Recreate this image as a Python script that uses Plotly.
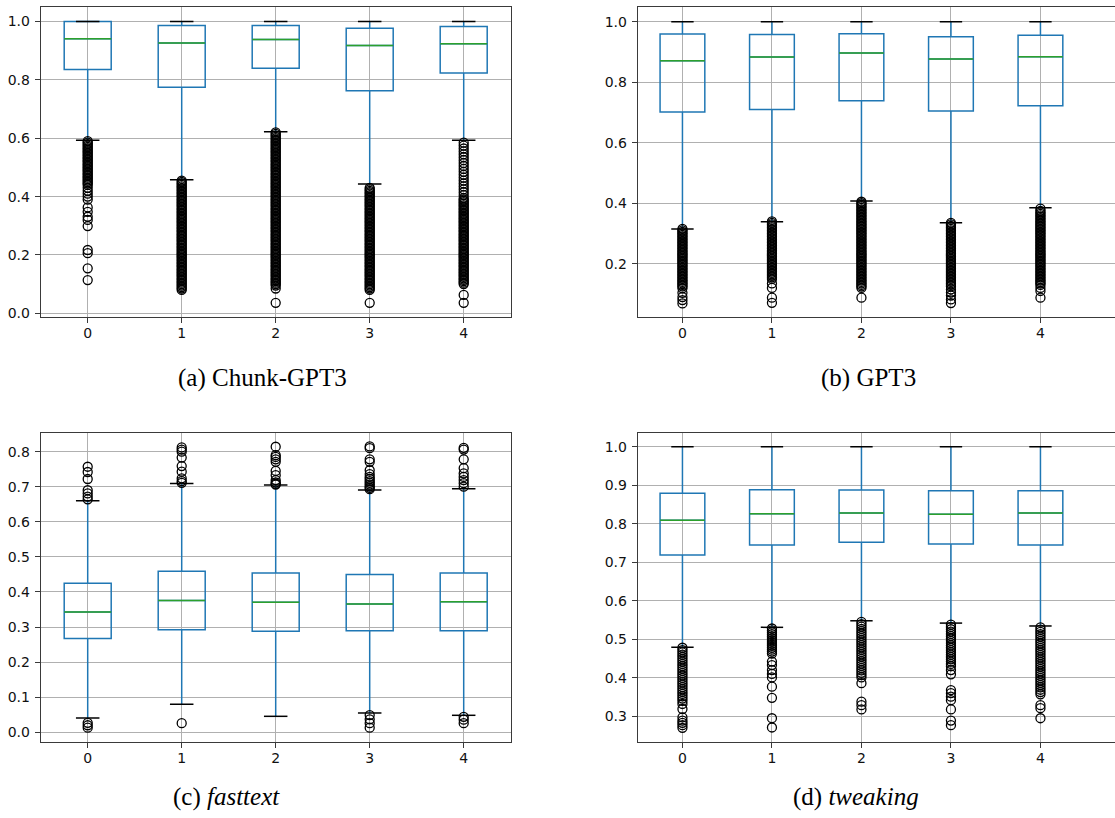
import plotly.graph_objects as go

categories = [0, 1, 2, 3, 4]
tick_labels = ["0", "1", "2", "3", "4"]
captions = ["(a) Chunk-GPT3", "(b) GPT3", "(c) <i>fasttext</i>", "(d) <i>tweaking</i>"]

# ---------------- (a) Chunk-GPT3 ----------------
a_q1 = [0.836, 0.775, 0.840, 0.763, 0.824]
a_median = [0.941, 0.927, 0.939, 0.918, 0.924]
a_q3 = [1.000, 0.987, 0.987, 0.977, 0.983]
a_low = [0.593, 0.458, 0.622, 0.443, 0.593]
a_high = [1.0, 1.0, 1.0, 1.0, 1.0]
a_out0 = [0.590, 0.585, 0.580, 0.575, 0.570, 0.565, 0.560, 0.555, 0.550, 0.545, 0.540, 0.535, 0.530, 0.525,
          0.520, 0.515, 0.510, 0.505, 0.500, 0.495, 0.490, 0.485, 0.480, 0.475, 0.470, 0.465, 0.460, 0.455,
          0.450, 0.445, 0.440, 0.430, 0.420, 0.410, 0.400, 0.390, 0.363, 0.348, 0.331, 0.320, 0.299, 0.217,
          0.206, 0.154, 0.114]
a_out1 = [0.455, 0.450, 0.445, 0.440, 0.435, 0.430, 0.425, 0.420, 0.415, 0.410, 0.405, 0.400, 0.395, 0.390,
          0.385, 0.380, 0.375, 0.370, 0.365, 0.360, 0.355, 0.350, 0.345, 0.340, 0.335, 0.330, 0.325, 0.320,
          0.315, 0.310, 0.305, 0.300, 0.295, 0.290, 0.285, 0.280, 0.275, 0.270, 0.265, 0.260, 0.255, 0.250,
          0.245, 0.240, 0.235, 0.230, 0.225, 0.220, 0.215, 0.210, 0.205, 0.200, 0.195, 0.190, 0.185, 0.180,
          0.175, 0.170, 0.165, 0.160, 0.155, 0.150, 0.145, 0.140, 0.135, 0.130, 0.125, 0.120, 0.115, 0.110,
          0.105, 0.100, 0.095, 0.090, 0.085, 0.080]
a_out2 = [0.620, 0.615, 0.610, 0.605, 0.600, 0.595, 0.590, 0.585, 0.580, 0.575, 0.570, 0.565, 0.560, 0.555,
          0.550, 0.545, 0.540, 0.535, 0.530, 0.525, 0.520, 0.515, 0.510, 0.505, 0.500, 0.495, 0.490, 0.485,
          0.480, 0.475, 0.470, 0.465, 0.460, 0.455, 0.450, 0.445, 0.440, 0.435, 0.430, 0.425, 0.420, 0.415,
          0.410, 0.405, 0.400, 0.395, 0.390, 0.385, 0.380, 0.375, 0.370, 0.365, 0.360, 0.355, 0.350, 0.345,
          0.340, 0.335, 0.330, 0.325, 0.320, 0.315, 0.310, 0.305, 0.300, 0.295, 0.290, 0.285, 0.280, 0.275,
          0.270, 0.265, 0.260, 0.255, 0.250, 0.245, 0.240, 0.235, 0.230, 0.225, 0.220, 0.215, 0.210, 0.205,
          0.200, 0.195, 0.190, 0.185, 0.180, 0.175, 0.170, 0.165, 0.160, 0.155, 0.150, 0.145, 0.140, 0.135,
          0.130, 0.125, 0.120, 0.115, 0.110, 0.105, 0.100, 0.095, 0.085, 0.036]
a_out3 = [0.430, 0.425, 0.420, 0.415, 0.410, 0.405, 0.400, 0.395, 0.390, 0.385, 0.380, 0.375, 0.370, 0.365,
          0.360, 0.355, 0.350, 0.345, 0.340, 0.335, 0.330, 0.325, 0.320, 0.315, 0.310, 0.305, 0.300, 0.295,
          0.290, 0.285, 0.280, 0.275, 0.270, 0.265, 0.260, 0.255, 0.250, 0.245, 0.240, 0.235, 0.230, 0.225,
          0.220, 0.215, 0.210, 0.205, 0.200, 0.195, 0.190, 0.185, 0.180, 0.175, 0.170, 0.165, 0.160, 0.155,
          0.150, 0.145, 0.140, 0.135, 0.130, 0.125, 0.120, 0.115, 0.110, 0.105, 0.100, 0.095, 0.090, 0.085,
          0.080, 0.036]
a_out4 = [0.585, 0.575, 0.565, 0.555, 0.545, 0.535, 0.525, 0.515, 0.505, 0.495, 0.485, 0.475, 0.465, 0.455,
          0.445, 0.435, 0.425, 0.415, 0.405, 0.395, 0.390, 0.385, 0.380, 0.375, 0.370, 0.365, 0.360, 0.355,
          0.350, 0.345, 0.340, 0.335, 0.330, 0.325, 0.320, 0.315, 0.310, 0.305, 0.300, 0.295, 0.290, 0.285,
          0.280, 0.275, 0.270, 0.265, 0.260, 0.255, 0.250, 0.245, 0.240, 0.235, 0.230, 0.225, 0.220, 0.215,
          0.210, 0.205, 0.200, 0.195, 0.190, 0.185, 0.180, 0.175, 0.170, 0.165, 0.160, 0.155, 0.150, 0.145,
          0.140, 0.135, 0.130, 0.125, 0.120, 0.115, 0.110, 0.105, 0.100, 0.063, 0.036]
a_outliers = [a_out0, a_out1, a_out2, a_out3, a_out4]

# ---------------- (b) GPT3 ----------------
b_q1 = [0.7015, 0.710, 0.739, 0.705, 0.722]
b_median = [0.871, 0.883, 0.8965, 0.877, 0.884]
b_q3 = [0.959, 0.958, 0.960, 0.950, 0.955]
b_low = [0.315, 0.339, 0.407, 0.3355, 0.385]
b_high = [1.0, 1.0, 1.0, 1.0, 1.0]
b_out0 = [0.315, 0.310, 0.305, 0.300, 0.295, 0.290, 0.285, 0.280, 0.275, 0.270, 0.265, 0.260, 0.255, 0.250,
          0.245, 0.240, 0.235, 0.230, 0.225, 0.220, 0.215, 0.210, 0.205, 0.200, 0.195, 0.190, 0.185, 0.180,
          0.175, 0.170, 0.165, 0.160, 0.155, 0.150, 0.145, 0.140, 0.135, 0.130, 0.125, 0.119, 0.104, 0.090,
          0.080, 0.069]
b_out1 = [0.340, 0.335, 0.330, 0.325, 0.320, 0.315, 0.310, 0.305, 0.300, 0.295, 0.290, 0.285, 0.280, 0.275,
          0.270, 0.265, 0.260, 0.255, 0.250, 0.245, 0.240, 0.235, 0.230, 0.225, 0.220, 0.215, 0.210, 0.205,
          0.200, 0.195, 0.190, 0.185, 0.180, 0.175, 0.170, 0.165, 0.160, 0.155, 0.150, 0.135, 0.120, 0.088,
          0.071]
b_out2 = [0.405, 0.400, 0.395, 0.390, 0.385, 0.380, 0.375, 0.370, 0.365, 0.360, 0.355, 0.350, 0.345, 0.340,
          0.335, 0.330, 0.325, 0.320, 0.315, 0.310, 0.305, 0.300, 0.295, 0.290, 0.285, 0.280, 0.275, 0.270,
          0.265, 0.260, 0.255, 0.250, 0.245, 0.240, 0.235, 0.230, 0.225, 0.220, 0.215, 0.210, 0.205, 0.200,
          0.195, 0.190, 0.185, 0.180, 0.175, 0.170, 0.165, 0.160, 0.155, 0.150, 0.145, 0.140, 0.135, 0.130,
          0.125, 0.120, 0.088]
b_out3 = [0.335, 0.330, 0.325, 0.320, 0.315, 0.310, 0.305, 0.300, 0.295, 0.290, 0.285, 0.280, 0.275, 0.270,
          0.265, 0.260, 0.255, 0.250, 0.245, 0.240, 0.235, 0.230, 0.225, 0.220, 0.215, 0.210, 0.205, 0.200,
          0.195, 0.190, 0.185, 0.180, 0.175, 0.170, 0.165, 0.160, 0.155, 0.150, 0.145, 0.140, 0.135, 0.130,
          0.125, 0.115, 0.105, 0.095, 0.082, 0.070]
b_out4 = [0.382, 0.375, 0.370, 0.365, 0.360, 0.355, 0.350, 0.345, 0.340, 0.335, 0.330, 0.325, 0.320, 0.315,
          0.310, 0.305, 0.300, 0.295, 0.290, 0.285, 0.280, 0.275, 0.270, 0.265, 0.260, 0.255, 0.250, 0.245,
          0.240, 0.235, 0.230, 0.225, 0.220, 0.215, 0.210, 0.205, 0.200, 0.195, 0.190, 0.185, 0.180, 0.175,
          0.170, 0.165, 0.160, 0.155, 0.150, 0.145, 0.140, 0.135, 0.130, 0.120, 0.110, 0.088]
b_outliers = [b_out0, b_out1, b_out2, b_out3, b_out4]

# ---------------- (c) fasttext ----------------
c_q1 = [0.267, 0.2925, 0.288, 0.2897, 0.2897]
c_median = [0.343, 0.376, 0.3706, 0.3657, 0.3724]
c_q3 = [0.4247, 0.459, 0.454, 0.450, 0.454]
c_low = [0.0408, 0.0798, 0.0455, 0.055, 0.0484]
c_high = [0.660, 0.709, 0.705, 0.691, 0.6945]
c_out0 = [0.757, 0.742, 0.722, 0.690, 0.681, 0.672, 0.664, 0.027, 0.020, 0.013]
c_out1 = [0.812, 0.806, 0.800, 0.783, 0.759, 0.743, 0.724, 0.716, 0.711, 0.026]
c_out2 = [0.814, 0.790, 0.785, 0.778, 0.771, 0.745, 0.733, 0.719, 0.712, 0.708, 0.706]
c_out3 = [0.815, 0.810, 0.778, 0.771, 0.747, 0.736, 0.728, 0.722, 0.716, 0.711, 0.706, 0.701, 0.697, 0.693,
          0.049, 0.037, 0.026, 0.013]
c_out4 = [0.811, 0.806, 0.778, 0.753, 0.738, 0.728, 0.719, 0.710, 0.700, 0.044, 0.036, 0.026]
c_outliers = [c_out0, c_out1, c_out2, c_out3, c_out4]

# ---------------- (d) tweaking ----------------
d_q1 = [0.7188, 0.7447, 0.752, 0.7473, 0.7447]
d_median = [0.809, 0.826, 0.828, 0.8244, 0.828]
d_q3 = [0.879, 0.888, 0.8875, 0.8857, 0.8857]
d_low = [0.479, 0.531, 0.548, 0.542, 0.5345]
d_high = [1.0, 1.0, 1.0, 1.0, 1.0]
d_out0 = [0.478, 0.472, 0.466, 0.460, 0.454, 0.448, 0.442, 0.436, 0.430, 0.424, 0.418, 0.412, 0.406, 0.400,
          0.394, 0.388, 0.382, 0.376, 0.370, 0.364, 0.358, 0.352, 0.346, 0.340, 0.332, 0.319, 0.297, 0.289,
          0.283, 0.277, 0.270]
d_out1 = [0.528, 0.523, 0.518, 0.513, 0.508, 0.503, 0.498, 0.493, 0.488, 0.483, 0.478, 0.473, 0.468, 0.463,
          0.442, 0.433, 0.420, 0.410, 0.401, 0.377, 0.348, 0.295, 0.271]
d_out2 = [0.545, 0.539, 0.533, 0.527, 0.521, 0.515, 0.509, 0.503, 0.497, 0.491, 0.485, 0.479, 0.473, 0.467,
          0.461, 0.455, 0.449, 0.443, 0.437, 0.431, 0.425, 0.419, 0.413, 0.407, 0.401, 0.386, 0.338, 0.329,
          0.318]
d_out3 = [0.538, 0.532, 0.526, 0.520, 0.514, 0.508, 0.502, 0.496, 0.490, 0.484, 0.478, 0.472, 0.466, 0.460,
          0.454, 0.448, 0.442, 0.436, 0.430, 0.420, 0.409, 0.368, 0.360, 0.351, 0.342, 0.318, 0.289, 0.277]
d_out4 = [0.531, 0.525, 0.519, 0.513, 0.507, 0.501, 0.495, 0.489, 0.483, 0.477, 0.471, 0.465, 0.459, 0.453,
          0.447, 0.441, 0.435, 0.429, 0.423, 0.417, 0.411, 0.405, 0.399, 0.393, 0.387, 0.381, 0.375, 0.369,
          0.363, 0.357, 0.329, 0.321, 0.295]
d_outliers = [d_out0, d_out1, d_out2, d_out3, d_out4]

# ---------------- styling / layout ----------------
W, H = 1115, 818
BLUE = "#1f77b4"
GREEN = "#2ca02c"
GRID = "#b0b0b0"
FRAME = "#3a3a3a"
BOX_WIDTH = 0.5

panels = [
    dict(q1=a_q1, med=a_median, q3=a_q3, lo=a_low, hi=a_high, out=a_outliers,
         px=(40.7, 510.7, 7.3, 316.7), xr=[-0.5, 4.5], yr=[-0.0117, 1.049],
         yt=[0.0, 0.2, 0.4, 0.6, 0.8, 1.0], right=True, cap=(262, 378)),
    dict(q1=b_q1, med=b_median, q3=b_q3, lo=b_low, hi=b_high, out=b_outliers,
         px=(637.7, 1115, 7.3, 316.7), xr=[-0.5, 4.833], yr=[0.025, 1.0476],
         yt=[0.2, 0.4, 0.6, 0.8, 1.0], right=False, cap=(868, 378)),
    dict(q1=c_q1, med=c_median, q3=c_q3, lo=c_low, hi=c_high, out=c_outliers,
         px=(40.7, 510.7, 432.7, 742), xr=[-0.5, 4.5], yr=[-0.0277, 0.854],
         yt=[0.0, 0.1, 0.2, 0.3, 0.4, 0.5, 0.6, 0.7, 0.8], right=True, cap=(226, 797)),
    dict(q1=d_q1, med=d_median, q3=d_q3, lo=d_low, hi=d_high, out=d_outliers,
         px=(637.7, 1115, 432.7, 742), xr=[-0.5, 4.833], yr=[0.2333, 1.0363],
         yt=[0.3, 0.4, 0.5, 0.6, 0.7, 0.8, 0.9, 1.0], right=False, cap=(856, 797)),
]

fig = go.Figure()
layout = dict(width=W, height=H, margin=dict(l=0, r=0, t=0, b=0, pad=0, autoexpand=False),
              paper_bgcolor="white", plot_bgcolor="white", showlegend=False,
              annotations=[])
tickfont = dict(family="DejaVu Sans", size=14, color="#111111")

for idx, p in enumerate(panels):
    n = idx + 1
    xa = "x" if n == 1 else f"x{n}"
    ya = "y" if n == 1 else f"y{n}"
    xkey = "xaxis" if n == 1 else f"xaxis{n}"
    ykey = "yaxis" if n == 1 else f"yaxis{n}"

    fig.add_trace(go.Box(
        x=categories, q1=p["q1"], median=p["med"], q3=p["q3"],
        lowerfence=p["lo"], upperfence=p["hi"], width=BOX_WIDTH, whiskerwidth=0,
        line=dict(color=BLUE, width=1.5), fillcolor="rgba(0,0,0,0)",
        boxpoints=False, hoverinfo="skip", xaxis=xa, yaxis=ya))

    # medians (green)
    mx, my = [], []
    for c, m in zip(categories, p["med"]):
        mx += [c - BOX_WIDTH / 2, c + BOX_WIDTH / 2, None]
        my += [m, m, None]
    fig.add_trace(go.Scatter(x=mx, y=my, mode="lines", line=dict(color=GREEN, width=1.5),
                             hoverinfo="skip", xaxis=xa, yaxis=ya))

    # caps (black)
    cx, cy = [], []
    for c, lo, hi in zip(categories, p["lo"], p["hi"]):
        for v in (lo, hi):
            cx += [c - BOX_WIDTH / 4, c + BOX_WIDTH / 4, None]
            cy += [v, v, None]
    fig.add_trace(go.Scatter(x=cx, y=cy, mode="lines", line=dict(color="black", width=1.5),
                             hoverinfo="skip", xaxis=xa, yaxis=ya))

    # fliers
    fx, fy = [], []
    for c, vals in zip(categories, p["out"]):
        fx += [c] * len(vals)
        fy += vals
    fig.add_trace(go.Scatter(x=fx, y=fy, mode="markers",
                             marker=dict(symbol="circle-open", size=9, color="black",
                                         line=dict(width=1.3, color="black")),
                             hoverinfo="skip", xaxis=xa, yaxis=ya))

    x0, x1, y0, y1 = p["px"]
    layout[xkey] = dict(domain=[x0 / W, min(x1 / W, 1.0)], range=p["xr"], anchor=ya,
                        tickvals=categories, ticktext=tick_labels, automargin=False,
                        showgrid=True, gridcolor=GRID, gridwidth=1, zeroline=False,
                        showline=True, linecolor=FRAME, linewidth=1, mirror=True,
                        ticks="outside", ticklen=5, tickwidth=1, tickcolor=FRAME,
                        ticklabelstandoff=-2,
                        tickfont=tickfont, fixedrange=True)
    layout[ykey] = dict(domain=[1 - y1 / H, 1 - y0 / H], range=p["yr"], anchor=xa,
                        tickvals=p["yt"], tickformat=".1f", automargin=False,
                        showgrid=True, gridcolor=GRID, gridwidth=1, zeroline=False,
                        showline=True, linecolor=FRAME, linewidth=1, mirror=p["right"],
                        ticks="outside", ticklen=5, tickwidth=1, tickcolor=FRAME,
                        ticklabelstandoff=2,
                        tickfont=tickfont, fixedrange=True)
    layout["annotations"].append(dict(
        text=captions[idx], xref="paper", yref="paper",
        x=p["cap"][0] / W, y=1 - p["cap"][1] / H, xanchor="center", yanchor="middle",
        showarrow=False, font=dict(family="Liberation Serif", size=25, color="black")))

fig.update_layout(**layout)
fig.write_html("out.html", config={"displayModeBar": False},
               post_script="document.body.style.margin='0';document.body.style.overflow='hidden';")
